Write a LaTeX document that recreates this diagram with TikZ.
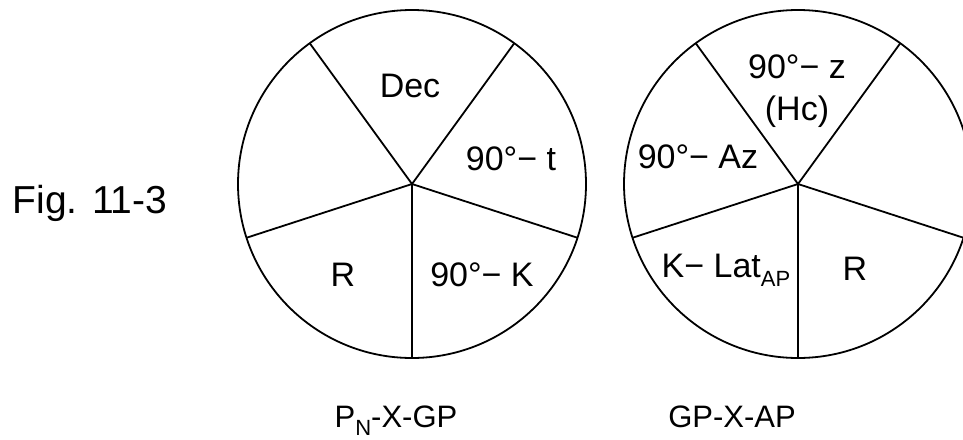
\documentclass[tikz,border=0pt]{standalone}
\usepackage{fontspec}
\setmainfont{Liberation Sans}
\newcommand{\mysub}[1]{\raisebox{-0.28em}{\fontsize{22}{22}\selectfont #1}}
\begin{document}
\begin{tikzpicture}[x=1pt,y=-1pt,
  lbl/.style={inner sep=0pt, anchor=base, font=\fontsize{34}{40}\selectfont},
  caption/.style={inner sep=0pt, anchor=base, font=\fontsize{31}{36}\selectfont},
  ring/.style={circle, draw, line width=1.8pt, inner sep=0pt, outer sep=0pt, minimum size=348pt},
  spoke/.style={line width=1.8pt}]
\useasboundingbox (0,0) rectangle (963,439);
\clip (0,0) rectangle (963,439);
\fill[white] (0,0) rectangle (963,439);

% left circle
\node[ring] (L) at (412,184) {};
\foreach \a in {54,126,198,270,342} \draw[spoke] (L.center) -- (L.\a);
% right circle
\node[ring] (Rc) at (798,184) {};
\foreach \a in {54,126,198,270,342} \draw[spoke] (Rc.center) -- (Rc.\a);

% left labels
\node[lbl] (dec) at (410,97) {Dec};
\node[lbl] (nt) at (511,170) {90°− t};
\node[lbl] (rl) at (343,286) {R};
\node[lbl] (nk) at (482,286) {90°− K};
% right labels
\node[lbl] (nz) at (797,78) {90°− z};
\node[lbl] (hc) at (797,120) {(Hc)};
\node[lbl] (naz) at (698,168) {90°− Az};
\node[lbl] (klat) at (726,277) {K− Lat\mysub{AP}};
\node[lbl] (rr) at (855,280) {R};

% captions
\node[inner sep=0pt, anchor=base, font=\fontsize{39}{44}\selectfont] (fig) at (90,213) {Fig. 11-3};
\node[caption] (pn) at (396,427) {P\mysub{N}-X-GP};
\node[caption] (gp) at (732,427) {GP-X-AP};
\end{tikzpicture}
\end{document}
